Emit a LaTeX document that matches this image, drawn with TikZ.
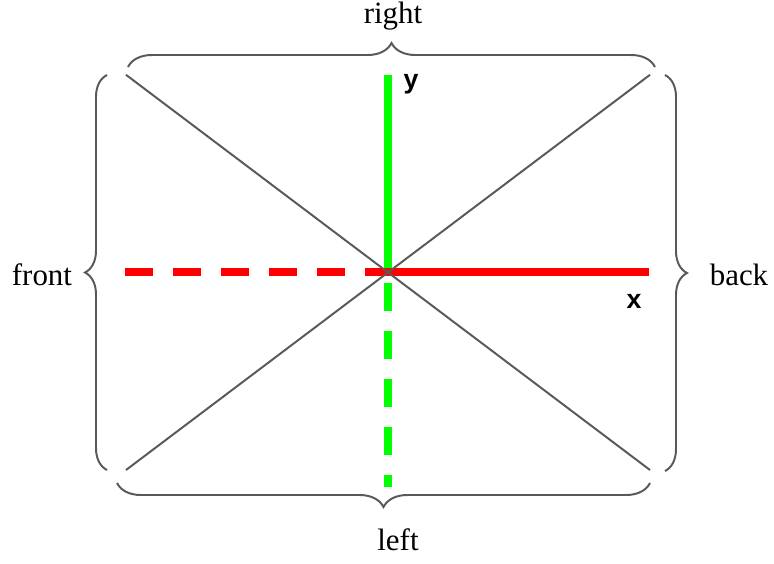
\documentclass[tikz,border=0pt]{standalone}
\usepackage{fontspec}
\setmainfont{Liberation Serif}
\setsansfont{Liberation Sans}
\usepackage{tikz}
\usetikzlibrary{calc, decorations.pathreplacing}
\tikzset{
	sidetext/.style={font=\fontsize{22}{26}\selectfont, anchor=base}
}
\tikzset{
	axistext/.style={font=\fontsize{19}{22}\selectfont\sffamily\bfseries, anchor=base}
}
\tikzset{
	diag/.style={line width=1.4pt, draw=black!65},
	sidebrace/.style={line width=1.4pt, draw=black!65, decorate, decoration={brace, amplitude=#1}}
}

\begin{document}
\begin{tikzpicture}
      \useasboundingbox (-9.7,-7.275) rectangle (9.65,6.8);
      \coordinate (o) at (0,0);
      \coordinate (tl) at (-6.55,4.93);
      \coordinate (tr) at (6.55,4.93);
      \coordinate (bl) at (-6.55,-4.95);
      \coordinate (br) at (6.55,-4.95);
      \coordinate (ytop) at (0,4.925);
      \coordinate (ybot) at (0,-5.375);
      \coordinate (xleft) at (-6.575,0);
      \coordinate (xright) at (6.525,0);

      % axes: solid on the positive side, dashed on the negative side
      \draw[green, line width=5pt] (o) -- (ytop);
      \draw[green, line width=5pt, dash pattern=on 0.7cm off 0.5cm, dash phase=0.925cm] (o) -- (ybot);
      \draw[red, line width=5pt, dash pattern=on 0.7cm off 0.5cm] (xleft) -- (o);
      \draw[red, line width=5pt] (o) -- (xright);

      \draw[diag] (tl) -- (br);
      \draw[diag] (tr) -- (bl);

      \node[axistext] (ylab) at (0.575,4.6) {y};
      \node[axistext] (xlab) at (6.15,-0.9) {x};

      % braces round the four sides
      \draw[sidebrace=0.6cm] (-6.5,5.125) coordinate (rb1) -- (6.675,5.125) coordinate (rb2);
      \draw[sidebrace=0.6cm] (6.55,-5.275) coordinate (lb1) -- (-6.775,-5.275) coordinate (lb2);
      \draw[sidebrace=0.55cm] (-7.025,-4.95) coordinate (fb1) -- (-7.025,4.925) coordinate (fb2);
      \draw[sidebrace=0.55cm] (6.925,4.925) coordinate (bb1) -- (6.925,-4.975) coordinate (bb2);

      \node[sidetext] (right) at (0.125,6.225) {right};
      \node[sidetext] (left) at (0.25,-6.95) {left};
      \node[sidetext] (front) at (-8.65,-0.325) {front};
      \node[sidetext] (back) at (8.775,-0.325) {back};
    \end{tikzpicture}
\end{document}
